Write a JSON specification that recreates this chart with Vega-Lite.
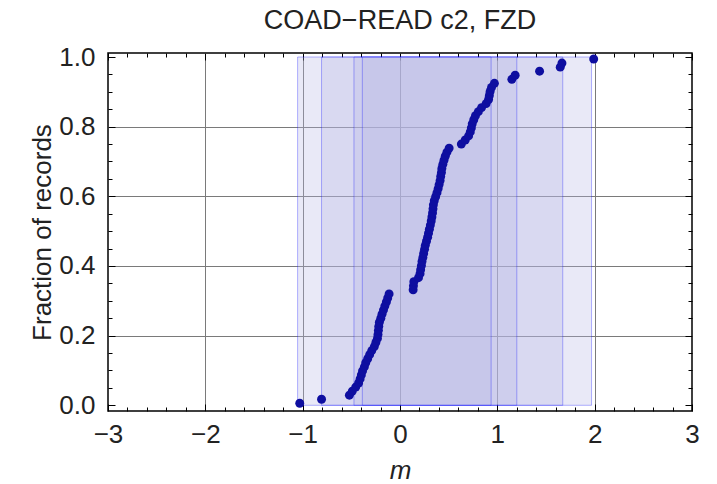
{
  "$schema": "https://vega.github.io/schema/vega-lite/v6.json",
  "width": 584,
  "height": 358,
  "autosize": {"type": "none"},
  "padding": {"left": 108, "top": 53, "right": 25, "bottom": 73},
  "background": "white",
  "title": {"text": "COAD−READ c2, FZD", "font": "Liberation Sans", "fontSize": 27, "fontWeight": "normal", "color": "#222222", "baseline": "alphabetic", "anchor": "middle", "offset": 22, "dy": 34},
  "config": {
    "view": {"stroke": "#000000", "strokeWidth": 1.5},
    "axis": {"domain": false, "labelFont": "Liberation Sans", "labelFontSize": 26, "labelColor": "#222222", "labelOverlap": false, "labelFlush": false, "titleFont": "Liberation Sans", "titleFontSize": 26, "titleFontWeight": "normal", "titleColor": "#222222", "tickColor": "#000000", "tickWidth": 1, "gridColor": "#7a7a7a", "gridWidth": 1}
  },
  "datasets": {
    "bands": [
      {"lo": -1.052, "hi": 1.968, "b": 0, "t": 1},
      {"lo": -0.806, "hi": 1.672, "b": 0, "t": 1},
      {"lo": -0.473, "hi": 1.2, "b": 0, "t": 1},
      {"lo": -0.387, "hi": 0.936, "b": 0, "t": 1}
    ],
    "pts": [
      {"m": -1.03, "frac": 0.0058}, {"m": -0.806, "frac": 0.0174}, {"m": -0.52, "frac": 0.0291}, {"m": -0.49, "frac": 0.0407},
      {"m": -0.455, "frac": 0.0523}, {"m": -0.425, "frac": 0.064}, {"m": -0.41, "frac": 0.0756}, {"m": -0.397, "frac": 0.0872},
      {"m": -0.385, "frac": 0.0988}, {"m": -0.366, "frac": 0.1105}, {"m": -0.352, "frac": 0.1221}, {"m": -0.332, "frac": 0.1337},
      {"m": -0.312, "frac": 0.1453}, {"m": -0.29, "frac": 0.157}, {"m": -0.264, "frac": 0.1686}, {"m": -0.248, "frac": 0.1802},
      {"m": -0.232, "frac": 0.1919}, {"m": -0.226, "frac": 0.2035}, {"m": -0.222, "frac": 0.2151}, {"m": -0.218, "frac": 0.2267},
      {"m": -0.212, "frac": 0.2384}, {"m": -0.197, "frac": 0.25}, {"m": -0.185, "frac": 0.2616}, {"m": -0.17, "frac": 0.2733},
      {"m": -0.156, "frac": 0.2849}, {"m": -0.14, "frac": 0.2965}, {"m": -0.126, "frac": 0.3081}, {"m": -0.112, "frac": 0.3198},
      {"m": 0.135, "frac": 0.3314}, {"m": 0.138, "frac": 0.343}, {"m": 0.142, "frac": 0.3547}, {"m": 0.19, "frac": 0.3663},
      {"m": 0.206, "frac": 0.3779}, {"m": 0.212, "frac": 0.3895}, {"m": 0.22, "frac": 0.4012}, {"m": 0.226, "frac": 0.4128},
      {"m": 0.235, "frac": 0.4244}, {"m": 0.243, "frac": 0.436}, {"m": 0.252, "frac": 0.4477}, {"m": 0.26, "frac": 0.4593},
      {"m": 0.272, "frac": 0.4709}, {"m": 0.284, "frac": 0.4826}, {"m": 0.293, "frac": 0.4942}, {"m": 0.302, "frac": 0.5058},
      {"m": 0.312, "frac": 0.5174}, {"m": 0.321, "frac": 0.5291}, {"m": 0.328, "frac": 0.5407}, {"m": 0.334, "frac": 0.5523},
      {"m": 0.339, "frac": 0.564}, {"m": 0.343, "frac": 0.5756}, {"m": 0.352, "frac": 0.5872}, {"m": 0.366, "frac": 0.5988},
      {"m": 0.38, "frac": 0.6105}, {"m": 0.392, "frac": 0.6221}, {"m": 0.402, "frac": 0.6337}, {"m": 0.412, "frac": 0.6453},
      {"m": 0.418, "frac": 0.657}, {"m": 0.426, "frac": 0.6686}, {"m": 0.43, "frac": 0.6802}, {"m": 0.44, "frac": 0.6919},
      {"m": 0.452, "frac": 0.7035}, {"m": 0.465, "frac": 0.7151}, {"m": 0.482, "frac": 0.7267}, {"m": 0.505, "frac": 0.7384},
      {"m": 0.63, "frac": 0.75}, {"m": 0.67, "frac": 0.7616}, {"m": 0.705, "frac": 0.7733}, {"m": 0.722, "frac": 0.7849},
      {"m": 0.733, "frac": 0.7965}, {"m": 0.742, "frac": 0.8081}, {"m": 0.758, "frac": 0.8198}, {"m": 0.775, "frac": 0.8314},
      {"m": 0.805, "frac": 0.843}, {"m": 0.838, "frac": 0.8547}, {"m": 0.885, "frac": 0.8663}, {"m": 0.91, "frac": 0.8779},
      {"m": 0.918, "frac": 0.8895}, {"m": 0.926, "frac": 0.9012}, {"m": 0.94, "frac": 0.9128}, {"m": 0.97, "frac": 0.9244},
      {"m": 1.149, "frac": 0.936}, {"m": 1.183, "frac": 0.9477}, {"m": 1.434, "frac": 0.9593}, {"m": 1.646, "frac": 0.9709},
      {"m": 1.664, "frac": 0.9826}, {"m": 1.99, "frac": 0.9942}
    ]
  },
  "layer": [
    {
      "data": {"name": "bands"},
      "mark": {"type": "rect", "fill": "#b6b6e4", "fillOpacity": 0.3, "stroke": "#0000ff", "strokeOpacity": 0.3, "strokeWidth": 1},
      "encoding": {
        "x": {"field": "lo", "type": "quantitative", "scale": {"domain": [-3, 3], "nice": false, "zero": false},
          "axis": {"orient": "bottom", "values": [-3,-2.8,-2.6,-2.4,-2.2,-2,-1.8,-1.6,-1.4,-1.2,-1,-0.8,-0.6,-0.4,-0.2,0,0.2,0.4,0.6,0.8,1,1.2,1.4,1.6,1.8,2,2.2,2.4,2.6,2.8,3],
            "labelExpr": "abs(datum.value-round(datum.value))<0.001 ? format(datum.value,'d') : ''",
            "tickSize": {"condition": {"test": "abs(datum.value-round(datum.value))<0.001", "value": -7}, "value": -4},
            "grid": true,
            "gridOpacity": {"condition": {"test": "abs(datum.value-round(datum.value))<0.001 && abs(datum.value)<2.5", "value": 1}, "value": 0},
            "labelPadding": 17, "title": "m", "titleFontStyle": "italic", "titlePadding": 7}},
        "x2": {"field": "hi"},
        "y": {"field": "b", "type": "quantitative", "scale": {"domain": [-0.0164, 1.0115], "nice": false, "zero": false},
          "axis": {"orient": "left", "values": [0,0.05,0.1,0.15,0.2,0.25,0.3,0.35,0.4,0.45,0.5,0.55,0.6,0.65,0.7,0.75,0.8,0.85,0.9,0.95,1],
            "labelExpr": "abs(datum.value*5-round(datum.value*5))<0.001 ? format(datum.value,'.1f') : ''",
            "tickSize": {"condition": {"test": "abs(datum.value*5-round(datum.value*5))<0.001", "value": -7}, "value": -4},
            "grid": true,
            "gridOpacity": {"condition": {"test": "abs(datum.value*5-round(datum.value*5))<0.001 && datum.value>0.1 && datum.value<0.9", "value": 1}, "value": 0},
            "labelPadding": 20, "title": "Fraction of records", "titlePadding": 3}},
        "y2": {"field": "t"}
      }
    },
    {
      "data": {"name": "pts"},
      "mark": {"type": "circle", "size": 80, "color": "#0e0ea0", "opacity": 1},
      "encoding": {
        "x": {"field": "m", "type": "quantitative", "scale": {"domain": [-3, 3], "nice": false, "zero": false},
          "axis": {"orient": "top", "values": [-3,-2.8,-2.6,-2.4,-2.2,-2,-1.8,-1.6,-1.4,-1.2,-1,-0.8,-0.6,-0.4,-0.2,0,0.2,0.4,0.6,0.8,1,1.2,1.4,1.6,1.8,2,2.2,2.4,2.6,2.8,3],
            "labels": false, "grid": false, "title": null,
            "tickSize": {"condition": {"test": "abs(datum.value-round(datum.value))<0.001", "value": -7}, "value": -4}}},
        "y": {"field": "frac", "type": "quantitative", "scale": {"domain": [-0.0164, 1.0115], "nice": false, "zero": false},
          "axis": {"orient": "right", "values": [0,0.05,0.1,0.15,0.2,0.25,0.3,0.35,0.4,0.45,0.5,0.55,0.6,0.65,0.7,0.75,0.8,0.85,0.9,0.95,1],
            "labels": false, "grid": false, "title": null,
            "tickSize": {"condition": {"test": "abs(datum.value*5-round(datum.value*5))<0.001", "value": -7}, "value": -4}}}
      }
    }
  ],
  "resolve": {"axis": {"x": "independent", "y": "independent"}}
}
